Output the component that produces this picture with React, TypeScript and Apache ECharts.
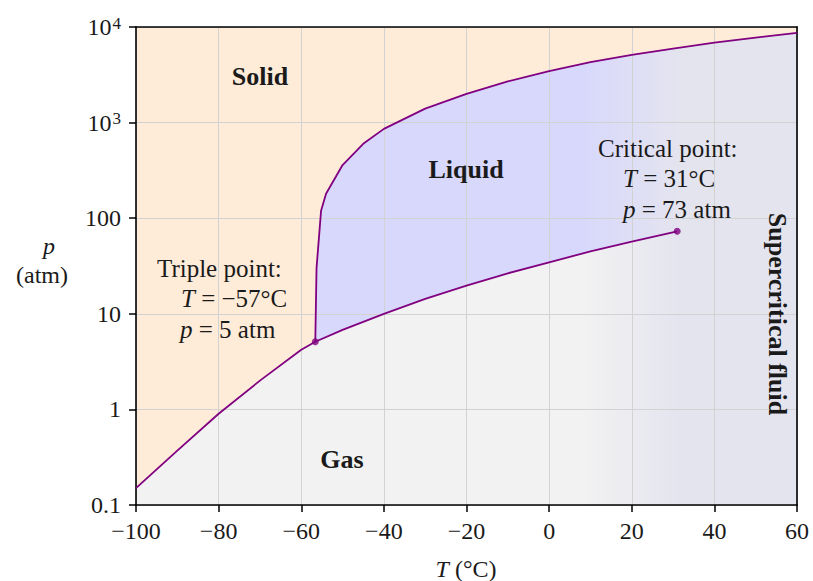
import React, { useEffect, useRef } from "react";
import * as echarts from "echarts";

// Axis ranges / ticks
const X_MIN = -100;
const X_MAX = 60;
const X_STEP = 20;
const Y_MIN = 0.1;
const Y_MAX = 10000;

// Sublimation curve (solid–gas)
const T_SUB = [-100, -90, -80, -70, -60, -56.6];
const P_SUB = [0.15, 0.37, 0.9, 2.0, 4.2, 5.1];

// Melting curve (solid–liquid)
const T_MELT = [-56.6, -56.3, -55.2, -54, -50, -45, -40, -30, -20, -10, 0, 10, 20, 30, 40, 50, 60];
const P_MELT = [5.1, 30, 120, 180, 360, 600, 860, 1400, 2000, 2700, 3450, 4300, 5100, 5950, 6850, 7750, 8700];

// Vaporization curve (liquid–gas)
const T_VAP = [-56.6, -50, -40, -30, -20, -10, 0, 10, 20, 31];
const P_VAP = [5.1, 6.8, 10, 14.3, 19.7, 26.5, 34.5, 45, 57, 73];

// Special points
const TRIPLE = [-56.6, 5.1];
const CRITICAL = [31, 73];

// Temperatures between which the colours fade to the supercritical tint
const FADE_T = [8, 32];

const FONT = '"Liberation Serif", "Times New Roman", serif';
const INK = "#1a1a1a";
const PURPLE = "#800080";
const C_SOLID = "#FEEBD8";
const C_LIQUID = "#D8D8FC";
const C_GAS = "#F2F2F2";
const C_SC = "#E4E4EF";

const zip = (a: number[], b: number[]) => a.map((t, i) => [t, b[i]]);

export default function App() {
  const ref = useRef<HTMLDivElement>(null);

  useEffect(() => {
    const chart = echarts.init(ref.current!, null, { renderer: "svg" });
    const sub = zip(T_SUB, P_SUB);
    const melt = zip(T_MELT, P_MELT);
    const vap = zip(T_VAP, P_VAP);

    const minus = (v: number) => (v < 0 ? "\u2212" + Math.abs(v) : String(v));

    const regions = {
      type: "custom",
      z: 1,
      silent: true,
      clip: true,
      data: [[X_MIN, Y_MIN]],
      renderItem: (_params: any, api: any) => {
        const c = (p: number[]) => api.coord(p);
        const g0 = c([FADE_T[0], 1]);
        const g1 = c([FADE_T[1], 1]);
        const grad = (from: string, to: string) =>
          new echarts.graphic.LinearGradient(
            g0[0], 0, g1[0], 0,
            [
              { offset: 0, color: from },
              { offset: 1, color: to },
            ],
            true
          );
        const gasPts = [
          [X_MIN, Y_MIN], [X_MAX, Y_MIN], [X_MAX, Y_MAX], [X_MIN, Y_MAX],
        ].map(c);
        const liqPts = [
          ...melt,
          [X_MAX, CRITICAL[1]],
          ...vap.slice().reverse(),
        ].map(c);
        const solPts = [
          [X_MIN, Y_MAX],
          [X_MAX, Y_MAX],
          ...melt.slice().reverse(),
          ...sub.slice().reverse(),
        ].map(c);
        return {
          type: "group",
          children: [
            { type: "polygon", shape: { points: gasPts }, style: { fill: grad(C_GAS, C_SC) } },
            { type: "polygon", shape: { points: liqPts }, style: { fill: grad(C_LIQUID, C_SC) } },
            { type: "polygon", shape: { points: solPts }, style: { fill: C_SOLID } },
          ],
        };
      },
    };

    const lineStyle = { color: PURPLE, width: 1.8 };
    const curve = (data: number[][]) => ({
      type: "line",
      data,
      z: 5,
      showSymbol: false,
      symbol: "none",
      silent: true,
      lineStyle,
    });

    const axisFrame = { show: true, onZero: false, lineStyle: { color: "#000", width: 1.6 } };
    const textStyle = (size: number, extra: any = {}) => ({
      fontSize: size,
      fontFamily: FONT,
      fill: INK,
      ...extra,
    });

    const txt = (x: number, y: number, text: string, size: number, extra: any = {}) => ({
      type: "text",
      x,
      y,
      z: 20,
      silent: true,
      style: {
        text,
        ...textStyle(size),
        rich: {
          i: { fontSize: size, fontFamily: FONT, fontStyle: "italic", fill: INK },
        },
        ...extra,
      },
    });

    chart.setOption({
      animation: false,
      grid: { left: 136, right: 16, top: 27, bottom: 76 },
      xAxis: [
        {
          type: "value",
          min: X_MIN,
          max: X_MAX,
          interval: X_STEP,
          z: 3,
          axisLine: axisFrame,
          axisTick: { show: true, inside: false, length: 7, lineStyle: { color: "#000", width: 1.5 } },
          axisLabel: {
            fontSize: 24,
            fontFamily: FONT,
            color: INK,
            margin: 14,
            formatter: (v: number) => minus(v),
          },
          splitLine: { show: true, lineStyle: { color: "#d2d2d2", width: 1 } },
        },
        {
          type: "value",
          position: "top",
          min: X_MIN,
          max: X_MAX,
          interval: X_STEP,
          z: 3,
          axisLine: axisFrame,
          axisTick: { show: false },
          axisLabel: { show: false },
          splitLine: { show: false },
        },
      ],
      yAxis: [
        {
          type: "log",
          logBase: 10,
          min: Y_MIN,
          max: Y_MAX,
          z: 3,
          axisLine: axisFrame,
          axisTick: { show: true, inside: false, length: 7, lineStyle: { color: "#000", width: 1.5 } },
          minorTick: { show: false },
          axisLabel: {
            margin: 15,
            fontSize: 24,
            fontFamily: FONT,
            color: INK,
            formatter: (v: number) => {
              const e = Math.round(Math.log10(v));
              if (e >= 3) return "{n|10}{s|" + e + "}";
              if (e >= 0) return "{n|" + Math.pow(10, e) + "}";
              return "{n|0.1}";
            },
            rich: {
              n: { fontSize: 24, fontFamily: FONT, color: INK, lineHeight: 25 },
              s: { fontSize: 17, fontFamily: FONT, color: INK, verticalAlign: "top", lineHeight: 17, padding: [0, 0, 0, 1] },
            },
          },
          splitLine: { show: true, lineStyle: { color: "#d2d2d2", width: 1 } },
        },
        {
          type: "log",
          logBase: 10,
          position: "right",
          min: Y_MIN,
          max: Y_MAX,
          z: 3,
          axisLine: axisFrame,
          axisTick: { show: false },
          axisLabel: { show: false },
          splitLine: { show: false },
        },
      ],
      series: [
        regions,
        curve(sub),
        curve(melt),
        curve(vap),
        {
          type: "scatter",
          data: [TRIPLE, CRITICAL],
          z: 6,
          symbol: "circle",
          symbolSize: 7,
          silent: true,
          itemStyle: { color: PURPLE },
        },
      ],
      graphic: [
        // axis names
        txt(466, 569, "{i|T} (°C)", 24, { align: "center", verticalAlign: "middle" }),
        txt(49, 246, "{i|p}", 24, { align: "center", verticalAlign: "middle" }),
        txt(42, 275, "(atm)", 24, { align: "center", verticalAlign: "middle" }),
        // region labels
        txt(260, 76, "Solid", 26, { align: "center", verticalAlign: "middle", fontWeight: "bold" }),
        txt(466, 169, "Liquid", 26, { align: "center", verticalAlign: "middle", fontWeight: "bold" }),
        txt(342, 459, "Gas", 26, { align: "center", verticalAlign: "middle", fontWeight: "bold" }),
        {
          type: "text",
          x: 777,
          y: 314,
          rotation: -Math.PI / 2,
          z: 20,
          silent: true,
          style: {
            text: "Supercritical fluid",
            ...textStyle(26),
            fontWeight: "bold",
            align: "center",
            verticalAlign: "middle",
          },
        },
        // triple point annotation
        txt(157, 268, "Triple point:", 25, { align: "left", verticalAlign: "middle" }),
        txt(181, 298, "{i|T} = \u221257°C", 25, { align: "left", verticalAlign: "middle" }),
        txt(180, 329, "{i|p} = 5 atm", 25, { align: "left", verticalAlign: "middle" }),
        // critical point annotation
        txt(598, 148, "Critical point:", 25, { align: "left", verticalAlign: "middle" }),
        txt(623, 178, "{i|T} = 31°C", 25, { align: "left", verticalAlign: "middle" }),
        txt(623, 209, "{i|p} = 73 atm", 25, { align: "left", verticalAlign: "middle" }),
      ],
    });

    return () => chart.dispose();
  }, []);

  return (
    <div
      ref={ref}
      style={{ position: "fixed", left: 0, top: 0, width: 813, height: 581, background: "#fff" }}
    />
  );
}
